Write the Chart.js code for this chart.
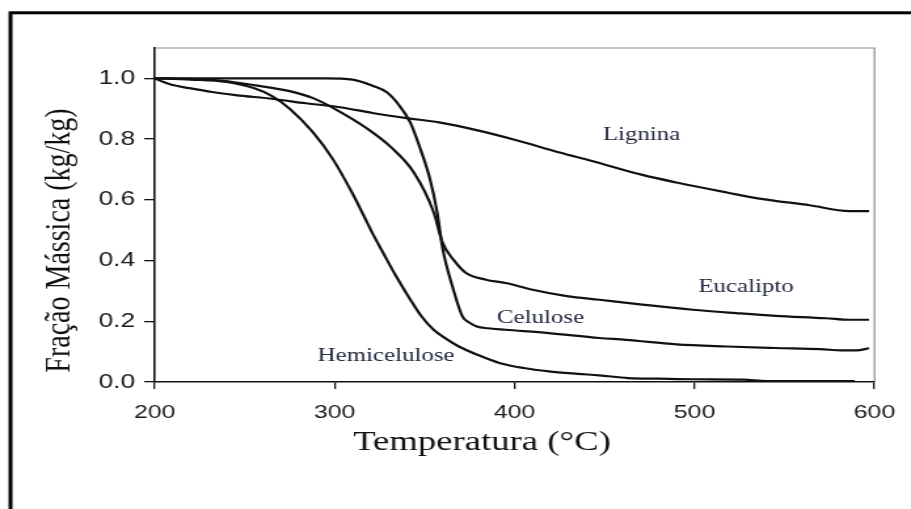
<!DOCTYPE html>
<html>
<head>
<meta charset="utf-8">
<script src="https://cdn.jsdelivr.net/npm/chart.js@4/dist/chart.umd.min.js"></script>
<style>
  html, body { margin: 0; padding: 0; background: #fff; overflow: hidden; }
</style>
</head>
<body>
<canvas id="plot" width="695" height="509" style="display:block;width:911px;height:509px"></canvas>
<script>
// Thermogravimetric curves: mass fraction vs temperature
const ligninaT = [200, 205, 210, 219, 232, 245, 266, 284, 303, 321, 340, 358, 380, 400, 425, 443, 471, 490, 518, 536, 564, 586, 597];
const ligninaY = [1.0, 0.988, 0.978, 0.968, 0.955, 0.945, 0.932, 0.918, 0.905, 0.886, 0.869, 0.855, 0.828, 0.798, 0.756, 0.728, 0.682, 0.657, 0.624, 0.604, 0.582, 0.563, 0.563];

const hemiT = [200, 220, 240, 255, 265, 275, 288, 299, 310, 316, 321, 327, 334, 342, 348, 355, 362, 369, 380, 392, 405, 419, 435, 447, 463, 480, 500, 527, 540, 589];
const hemiY = [1.0, 0.996, 0.988, 0.968, 0.942, 0.9, 0.822, 0.734, 0.62, 0.55, 0.49, 0.425, 0.35, 0.272, 0.218, 0.172, 0.142, 0.117, 0.088, 0.062, 0.046, 0.035, 0.027, 0.022, 0.013, 0.011, 0.009, 0.008, 0.003, 0.003];

const celuloseT = [200, 250, 295, 310, 321, 329, 336, 342, 347, 353, 357, 360, 366, 371, 375, 379, 385, 395, 419, 447, 462, 490, 518, 545, 570, 582, 590, 597];
const celuloseY = [1.0, 1.0, 1.0, 0.996, 0.976, 0.954, 0.91, 0.855, 0.778, 0.668, 0.558, 0.44, 0.304, 0.216, 0.195, 0.183, 0.177, 0.172, 0.161, 0.145, 0.139, 0.124, 0.117, 0.112, 0.108, 0.104, 0.104, 0.111];

const eucaliptoT = [200, 220, 238, 256, 275, 288, 303, 318, 331, 344, 355, 360, 366, 373, 384, 395, 410, 429, 447, 471, 499, 523, 545, 573, 586, 597];
const eucaliptoY = [1.0, 0.998, 0.992, 0.977, 0.958, 0.935, 0.89, 0.835, 0.775, 0.69, 0.56, 0.458, 0.403, 0.359, 0.337, 0.326, 0.304, 0.283, 0.271, 0.255, 0.238, 0.227, 0.218, 0.21, 0.205, 0.205];

const xTickValues = [200, 300, 400, 500, 600];
const yTickValues = [0, 0.2, 0.4, 0.6, 0.8, 1.0];
const yTickLabels = ['0.0', '0.2', '0.4', '0.6', '0.8', '1.0'];

// Curve labels: text, temperature, mass fraction (baseline position)
const curveLabels = ['Lignina', 'Eucalipto', 'Celulose', 'Hemicelulose'];
const curveLabelT = [470.6, 528.6, 414.4, 328.6];
const curveLabelY = [0.797, 0.295, 0.195, 0.068];

const xTitle = 'Temperatura (°C)';
const yTitle = 'Fração Mássica (kg/kg)';

const toPoints = (xs, ys) => xs.map((x, i) => ({ x: x, y: ys[i] }));

const lineStyle = {
  borderColor: '#111',
  borderWidth: 2.2,
  pointRadius: 0,
  fill: false,
  cubicInterpolationMode: 'monotone'
};

const framePlugin = {
  id: 'frame',
  beforeDraw(chart) {
    const ctx = chart.ctx;
    const a = chart.chartArea;
    ctx.save();
    // outer figure frame
    ctx.strokeStyle = '#000';
    ctx.lineWidth = 3;
    ctx.strokeRect(8, 12.8, chart.width + 20, chart.height + 20);
    // light top and right edges of the plot box
    ctx.strokeStyle = '#8c8c8c';
    ctx.lineWidth = 1.2;
    ctx.beginPath();
    ctx.moveTo(a.left, a.top);
    ctx.lineTo(a.right, a.top);
    ctx.lineTo(a.right, a.bottom);
    ctx.stroke();
    ctx.restore();
  },
  afterDraw(chart) {
    const ctx = chart.ctx;
    const xs = chart.scales.x, ys = chart.scales.y;
    ctx.save();
    // curve names
    ctx.fillStyle = '#23283f';
    ctx.font = '19px "Liberation Serif", "Times New Roman", serif';
    ctx.textAlign = 'center';
    ctx.textBaseline = 'alphabetic';
    curveLabels.forEach((t, i) => {
      ctx.fillText(t, xs.getPixelForValue(curveLabelT[i]), ys.getPixelForValue(curveLabelY[i]));
    });
    // axis titles
    ctx.fillStyle = '#111';
    ctx.font = '28px "Liberation Serif", "Times New Roman", serif';
    ctx.fillText(xTitle, 367.7, 450);
    ctx.translate(53.4, 240.5);
    ctx.rotate(-Math.PI / 2);
    ctx.fillText(yTitle, 0, 0);
    ctx.restore();
  }
};

new Chart(document.getElementById('plot'), {
  type: 'line',
  data: {
    datasets: [
      Object.assign({ label: 'Lignina', data: toPoints(ligninaT, ligninaY) }, lineStyle),
      Object.assign({ label: 'Eucalipto', data: toPoints(eucaliptoT, eucaliptoY) }, lineStyle),
      Object.assign({ label: 'Celulose', data: toPoints(celuloseT, celuloseY) }, lineStyle),
      Object.assign({ label: 'Hemicelulose', data: toPoints(hemiT, hemiY) }, lineStyle)
    ]
  },
  options: {
    responsive: false,
    animation: false,
    layout: { padding: { left: 0, top: 48, right: 27.5, bottom: 0 } },
    plugins: { legend: { display: false }, tooltip: { enabled: false } },
    scales: {
      x: {
        type: 'linear',
        min: 200,
        max: 600,
        afterBuildTicks: s => { s.ticks = xTickValues.map(v => ({ value: v })); },
        afterFit: s => { s.height = 127; },
        grid: { display: true, drawOnChartArea: false, drawTicks: true, tickLength: 7, color: '#111', lineWidth: 1.3 },
        border: { display: true, color: '#111', width: 1.6 },
        ticks: {
          padding: 12,
          color: '#1a1a1a',
          font: { family: '"Liberation Sans", Arial, sans-serif', size: 19 },
          callback: v => String(v)
        }
      },
      y: {
        type: 'linear',
        min: 0,
        max: 1.1,
        afterBuildTicks: s => { s.ticks = yTickValues.map(v => ({ value: v })); },
        afterFit: s => { s.width = 118; },
        grid: { display: true, drawOnChartArea: false, drawTicks: true, tickLength: 8, color: '#111', lineWidth: 1.3 },
        border: { display: true, color: '#111', width: 1.6 },
        ticks: {
          padding: 7,
          color: '#1a1a1a',
          font: { family: '"Liberation Sans", Arial, sans-serif', size: 20 },
          callback: v => yTickLabels[yTickValues.findIndex(t => Math.abs(t - v) < 1e-9)]
        }
      }
    }
  },
  plugins: [framePlugin]
});
</script>
</body>
</html>
